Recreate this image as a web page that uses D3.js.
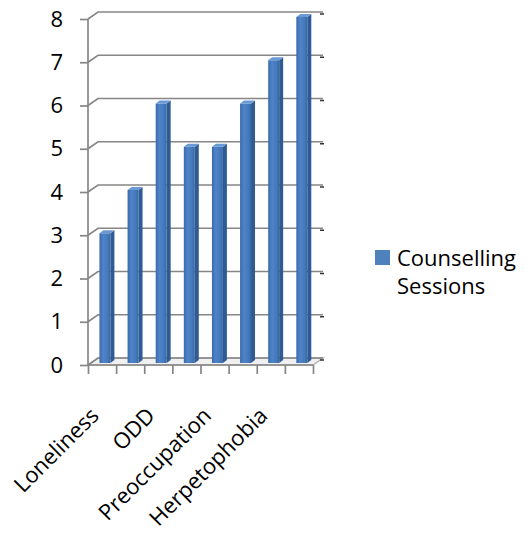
<!DOCTYPE html>
<html>
<head>
<meta charset="utf-8">
<script src="https://cdn.jsdelivr.net/npm/d3@7"></script>
<style>
  body { margin: 0; background: #fff; }
  svg { display: block; }
  text { font-family: "Open Sans", "Noto Sans", sans-serif; fill: #000; }
</style>
</head>
<body>
<svg id="chart" width="532" height="533"></svg>
<script>
// Categories (only every other name is printed on the axis)
const categories = ["Loneliness", "", "ODD", "", "Preoccupation", "", "Herpetophobia", ""];
// Number of counselling sessions per category
const sessions = [3, 4, 6, 5, 5, 6, 7, 8];
// Value axis ticks
const valueTicks = [0, 1, 2, 3, 4, 5, 6, 7, 8];
// Legend entry, wrapped over two lines
const seriesLabel = ["Counselling", "Sessions"];

const svg = d3.select("#chart");

// Plot frame: front plane and the depth offset of the back wall
const plotLeft = 88, plotRight = 313, plotBase = 365, plotTop = 19;
const DX = 10, DY = -7;
const fontSize = "22px";

const x = d3.scaleLinear().domain([0, categories.length]).range([plotLeft, plotRight]);
const y = d3.scaleLinear().domain([0, 8]).range([plotBase, plotTop]);

// project (category position, value, depth 0..1) onto the screen
const P = (c, v, z) => [x(c) + z * DX, y(v) + z * DY];
const pts = arr => arr.map(p => p.join(",")).join(" ");

const defs = svg.append("defs");
const g1 = defs.append("linearGradient").attr("id", "barFront").attr("x1", 0).attr("x2", 1).attr("y1", 0).attr("y2", 0);
g1.append("stop").attr("offset", "0").attr("stop-color", "#3a6bab");
g1.append("stop").attr("offset", "0.35").attr("stop-color", "#4f84c8");
g1.append("stop").attr("offset", "0.75").attr("stop-color", "#4679bb");
g1.append("stop").attr("offset", "1").attr("stop-color", "#3766a3");

// Floor
svg.append("polygon")
  .attr("points", pts([P(0, 0, 0), P(8, 0, 0), P(8, 0, 1), P(0, 0, 1)]))
  .attr("fill", "#f0f0f0")
  .attr("stroke", "#b4b4b4")
  .attr("stroke-width", 1.5);

// Gridlines on the side and back walls
const grid = svg.append("g");
valueTicks.forEach(v => {
  grid.append("polyline")
    .attr("points", pts([P(0, v, 0), P(0, v, 1), P(8, v, 1)]))
    .attr("fill", "none")
    .attr("stroke", "#868686")
    .attr("stroke-width", 1.7);
  const e = P(8, v, 1);
  grid.append("line")
    .attr("x1", e[0] - 3).attr("x2", e[0] + 1)
    .attr("y1", e[1] + 2).attr("y2", e[1] + 2)
    .attr("stroke", "#333").attr("stroke-width", 1.5);
});

// Value axis
const yAxis = svg.append("g")
  .attr("transform", `translate(${plotLeft},0)`)
  .call(d3.axisLeft(y).tickValues(valueTicks).tickSize(8).tickPadding(17).tickFormat(d3.format("d")));
yAxis.select(".domain").attr("stroke", "#868686").attr("stroke-width", 1.7).attr("d", `M0,${plotBase}V${plotTop}`);
yAxis.selectAll(".tick line").attr("stroke", "#868686").attr("stroke-width", 1.7);
yAxis.selectAll(".tick text")
  .style("font-family", '"Open Sans", sans-serif')
  .style("font-size", fontSize)
  .attr("fill", "#000");

// Category axis tick marks at band boundaries
const xAxis = svg.append("g")
  .attr("transform", `translate(0,${plotBase})`)
  .call(d3.axisBottom(x).tickValues(d3.range(categories.length + 1)).tickSize(9).tickFormat(""));
xAxis.select(".domain").attr("stroke", "#868686").attr("stroke-width", 1.7).attr("d", `M${plotLeft},0H${plotRight}`);
xAxis.selectAll(".tick line").attr("stroke", "#868686").attr("stroke-width", 1.7);

// Category labels, rotated
svg.append("g").selectAll("text")
  .data(categories.map((name, i) => ({ name, i })).filter(d => d.name))
  .join("text")
  .attr("transform", d => `translate(${x(d.i + 0.5) - 2},${plotBase + 52}) rotate(-45)`)
  .attr("text-anchor", "end")
  .style("font-size", fontSize)
  .text(d => d.name);

// 3D columns
const z0 = 0.3, z1 = 0.7, inset = 0.3, barW = 0.39;
const bars = svg.append("g");
sessions.forEach((v, i) => {
  const a = i + inset, b = i + inset + barW;
  // right side face
  bars.append("polygon")
    .attr("points", pts([P(b, 0, z0), P(b, 0, z1), P(b, v, z1), P(b, v, z0)]))
    .attr("fill", "#2f5b94");
  // front face
  bars.append("polygon")
    .attr("points", pts([P(a, 0, z0), P(b, 0, z0), P(b, v, z0), P(a, v, z0)]))
    .attr("fill", "url(#barFront)");
  // top face
  bars.append("polygon")
    .attr("points", pts([P(a, v, z0), P(b, v, z0), P(b, v, z1), P(a, v, z1)]))
    .attr("fill", "#6a99d4");
});

// Legend
const legend = svg.append("g");
legend.append("rect")
  .attr("x", 375).attr("y", 250).attr("width", 15).attr("height", 15)
  .attr("fill", "#4f81bd");
legend.selectAll("text")
  .data(seriesLabel)
  .join("text")
  .attr("x", 397)
  .attr("y", (d, i) => 266 + i * 28)
  .style("font-size", fontSize)
  .text(d => d);
</script>
</body>
</html>
